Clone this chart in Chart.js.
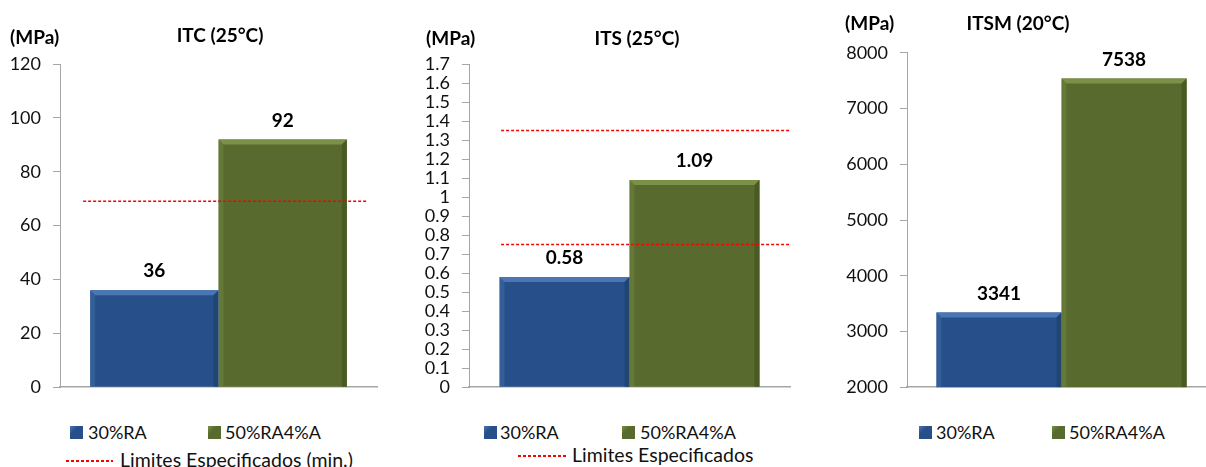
<!DOCTYPE html>
<html>
<head>
<meta charset="utf-8">
<script src="https://cdn.jsdelivr.net/npm/chart.js@4.4.1/dist/chart.umd.min.js"></script>
<style>
  html, body { margin: 0; padding: 0; background: #fff; overflow: hidden; }
  body { width: 1206px; height: 467px; position: relative; font-family: Lato, "Open Sans", sans-serif; color: #000; }
  canvas { position: absolute; }
  .txt { position: absolute; white-space: nowrap; line-height: 24px; height: 24px; }
  .bold { font-weight: bold; font-size: 19px; }
  .center { transform: translateX(-50%); }
  .leg { font-size: 18px; color: #111; }
  .leg.lim { font-size: 19.5px; }
  .sq { position: absolute; width: 13px; height: 13px; }
  .dash { position: absolute; height: 1.5px; background: repeating-linear-gradient(90deg, #ff0000 0px, #ff0000 3px, transparent 3px, transparent 5px); }
</style>
</head>
<body>
<canvas id="itcChart" width="390" height="370" style="left:0px;top:40px;width:390px;height:370px"></canvas>
<canvas id="itsChart" width="400" height="370" style="left:400px;top:40px;width:400px;height:370px"></canvas>
<canvas id="itsmChart" width="396" height="380" style="left:820px;top:30px;width:396px;height:380px"></canvas>

<div class="txt bold" style="left:10px;top:25px">(MPa)</div>
<div class="txt bold center" style="left:220px;top:23px">ITC (25°C)</div>
<div class="txt bold" style="left:426px;top:26px">(MPa)</div>
<div class="txt bold center" style="left:637px;top:26px">ITS (25°C)</div>
<div class="txt bold" style="left:845px;top:11px">(MPa)</div>
<div class="txt bold center" style="left:1018px;top:11px">ITSM (20°C)</div>

<div id="legends"></div>

<script>
const categories = ['30%RA', '50%RA4%A'];
const itcValues = [36, 92];
const itsValues = [0.58, 1.09];
const itsmValues = [3341, 7538];
const itcLimits = [69];
const itsLimits = [0.75, 1.35];
const itcTicks = { min: 0, max: 120, step: 20 };
const itsTicks = { min: 0, max: 1.7, step: 0.1 };
const itsmTicks = { min: 2000, max: 8000, step: 1000 };
const limitLabels = ['Limites Especificados (min.)', 'Limites Especificados', null];

const barColors = ['#27508a', '#586a2e'];
const barLight = ['#4a77b3', '#7b9147'];
const barDark = ['#1f426f', '#46561f'];
const axisColor = '#a6a6a6';

// value labels over the bars
const valueLabels = {
    id: 'valueLabels',
    afterDatasetsDraw(chart) {
        const ctx = chart.ctx;
        ctx.save();
        ctx.font = 'bold 19px Lato, sans-serif';
        ctx.fillStyle = '#000';
        ctx.textAlign = 'center';
        ctx.textBaseline = 'middle';
        chart.data.datasets.forEach((ds, i) => {
            const meta = chart.getDatasetMeta(i);
            meta.data.forEach((el, j) => {
                ctx.fillText(String(ds.data[j]), el.x, el.y - 19);
            });
        });
        ctx.restore();
    }
};

// bevel look of the bars
const bevel = {
    id: 'bevel',
    afterDatasetsDraw(chart) {
        const ctx = chart.ctx;
        const area = chart.chartArea;
        ctx.save();
        ctx.beginPath();
        ctx.rect(area.left, area.top, area.right - area.left, area.bottom - area.top);
        ctx.clip();
        chart.data.datasets.forEach((ds, i) => {
            const meta = chart.getDatasetMeta(i);
            meta.data.forEach(el => {
                const l = el.x - el.width / 2, r = el.x + el.width / 2;
                const t = el.y, b = Math.min(el.base, area.bottom), e = 5;
                ctx.fillStyle = barLight[i];
                ctx.beginPath();
                ctx.moveTo(l, t); ctx.lineTo(r, t); ctx.lineTo(r - e, t + e); ctx.lineTo(l + e, t + e);
                ctx.closePath(); ctx.fill();
                ctx.globalAlpha = 0.35;
                ctx.beginPath();
                ctx.moveTo(l, t); ctx.lineTo(l + e, t + e); ctx.lineTo(l + e, b); ctx.lineTo(l, b);
                ctx.closePath(); ctx.fill();
                ctx.globalAlpha = 0.8;
                ctx.fillStyle = barDark[i];
                ctx.beginPath();
                ctx.moveTo(r, t); ctx.lineTo(r, b); ctx.lineTo(r - e, b); ctx.lineTo(r - e, t + e);
                ctx.closePath(); ctx.fill();
                ctx.globalAlpha = 1;
            });
        });
        ctx.restore();
    }
};

// red dashed limit lines
const limitLines = {
    id: 'limitLines',
    afterDatasetsDraw(chart, args, opts) {
        if (!opts.values) return;
        const ctx = chart.ctx;
        const area = chart.chartArea;
        const y = chart.scales.y;
        const x0 = area.left + (area.right - area.left) * opts.from;
        const x1 = area.left + (area.right - area.left) * opts.to;
        ctx.save();
        ctx.strokeStyle = '#ff0000';
        ctx.lineWidth = 1.5;
        ctx.setLineDash([3, 2]);
        opts.values.forEach(v => {
            const py = y.getPixelForValue(v);
            ctx.beginPath();
            ctx.moveTo(x0, py);
            ctx.lineTo(x1, py);
            ctx.stroke();
        });
        ctx.restore();
    }
};

function makeChart(id, values, ticks, axisWidth, padding, limits, from, to) {
    return new Chart(document.getElementById(id), {
        type: 'bar',
        data: {
            labels: [''],
            datasets: categories.map((c, i) => ({
                label: c,
                data: [values[i]],
                backgroundColor: barColors[i],
                borderWidth: 0
            }))
        },
        options: {
            responsive: false,
            animation: false,
            layout: { padding: padding },
            datasets: { bar: { categoryPercentage: 0.81, barPercentage: 1 } },
            plugins: {
                legend: { display: false },
                tooltip: { enabled: false },
                limitLines: { values: limits, from: from, to: to }
            },
            scales: {
                x: {
                    grid: { display: false, drawTicks: false },
                    ticks: { display: false },
                    border: { color: axisColor, width: 1.5 }
                },
                y: {
                    min: ticks.min,
                    max: ticks.max,
                    ticks: {
                        stepSize: ticks.step,
                        autoSkip: false,
                        padding: 12,
                        color: '#111',
                        font: { family: 'Lato', size: 18 },
                        callback: v => String(+v.toFixed(1))
                    },
                    grid: { drawOnChartArea: false, drawTicks: true, tickLength: 7, color: axisColor },
                    border: { color: axisColor },
                    afterFit: s => { s.width = axisWidth; }
                }
            }
        },
        plugins: [bevel, valueLabels, limitLines]
    });
}

makeChart('itcChart', itcValues, itcTicks, 60, { top: 24, bottom: 19, left: 0, right: 13 }, itcLimits, 0.073, 0.968);
makeChart('itsChart', itsValues, itsTicks, 69, { top: 24, bottom: 18, left: 0, right: 10 }, itsLimits, 0.10, 1.0);
makeChart('itsmChart', itsmValues, itsmTicks, 87, { top: 20, bottom: 16, left: 0, right: 0 }, null, 0, 1);

// legends
const legendSpots = [
    { sq: [70, 208], txt: [88, 225], y: 432, line: { x: 66, w: 47, tx: 120, y: 460 } },
    { sq: [484, 622], txt: [500, 640], y: 432, line: { x: 518, w: 48, tx: 572, y: 455 } },
    { sq: [919, 1052], txt: [936, 1069], y: 432, line: null }
];
const legendBox = document.getElementById('legends');
legendSpots.forEach((spot, k) => {
    categories.forEach((c, i) => {
        const sq = document.createElement('div');
        sq.className = 'sq';
        sq.style.left = spot.sq[i] + 'px';
        sq.style.top = (spot.y - 6) + 'px';
        sq.style.background = 'linear-gradient(135deg, ' + barLight[i] + ' 0%, ' + barColors[i] + ' 35%, ' + barColors[i] + ' 100%)';
        legendBox.appendChild(sq);
        const t = document.createElement('div');
        t.className = 'txt leg';
        t.style.left = spot.txt[i] + 'px';
        t.style.top = (spot.y - 12) + 'px';
        t.textContent = c;
        legendBox.appendChild(t);
    });
    if (spot.line && limitLabels[k]) {
        const d = document.createElement('div');
        d.className = 'dash';
        d.style.left = spot.line.x + 'px';
        d.style.width = spot.line.w + 'px';
        d.style.top = spot.line.y + 'px';
        legendBox.appendChild(d);
        const t = document.createElement('div');
        t.className = 'txt leg lim';
        t.style.left = spot.line.tx + 'px';
        t.style.top = (spot.line.y - 12) + 'px';
        t.textContent = limitLabels[k];
        legendBox.appendChild(t);
    }
});
</script>
</body>
</html>
